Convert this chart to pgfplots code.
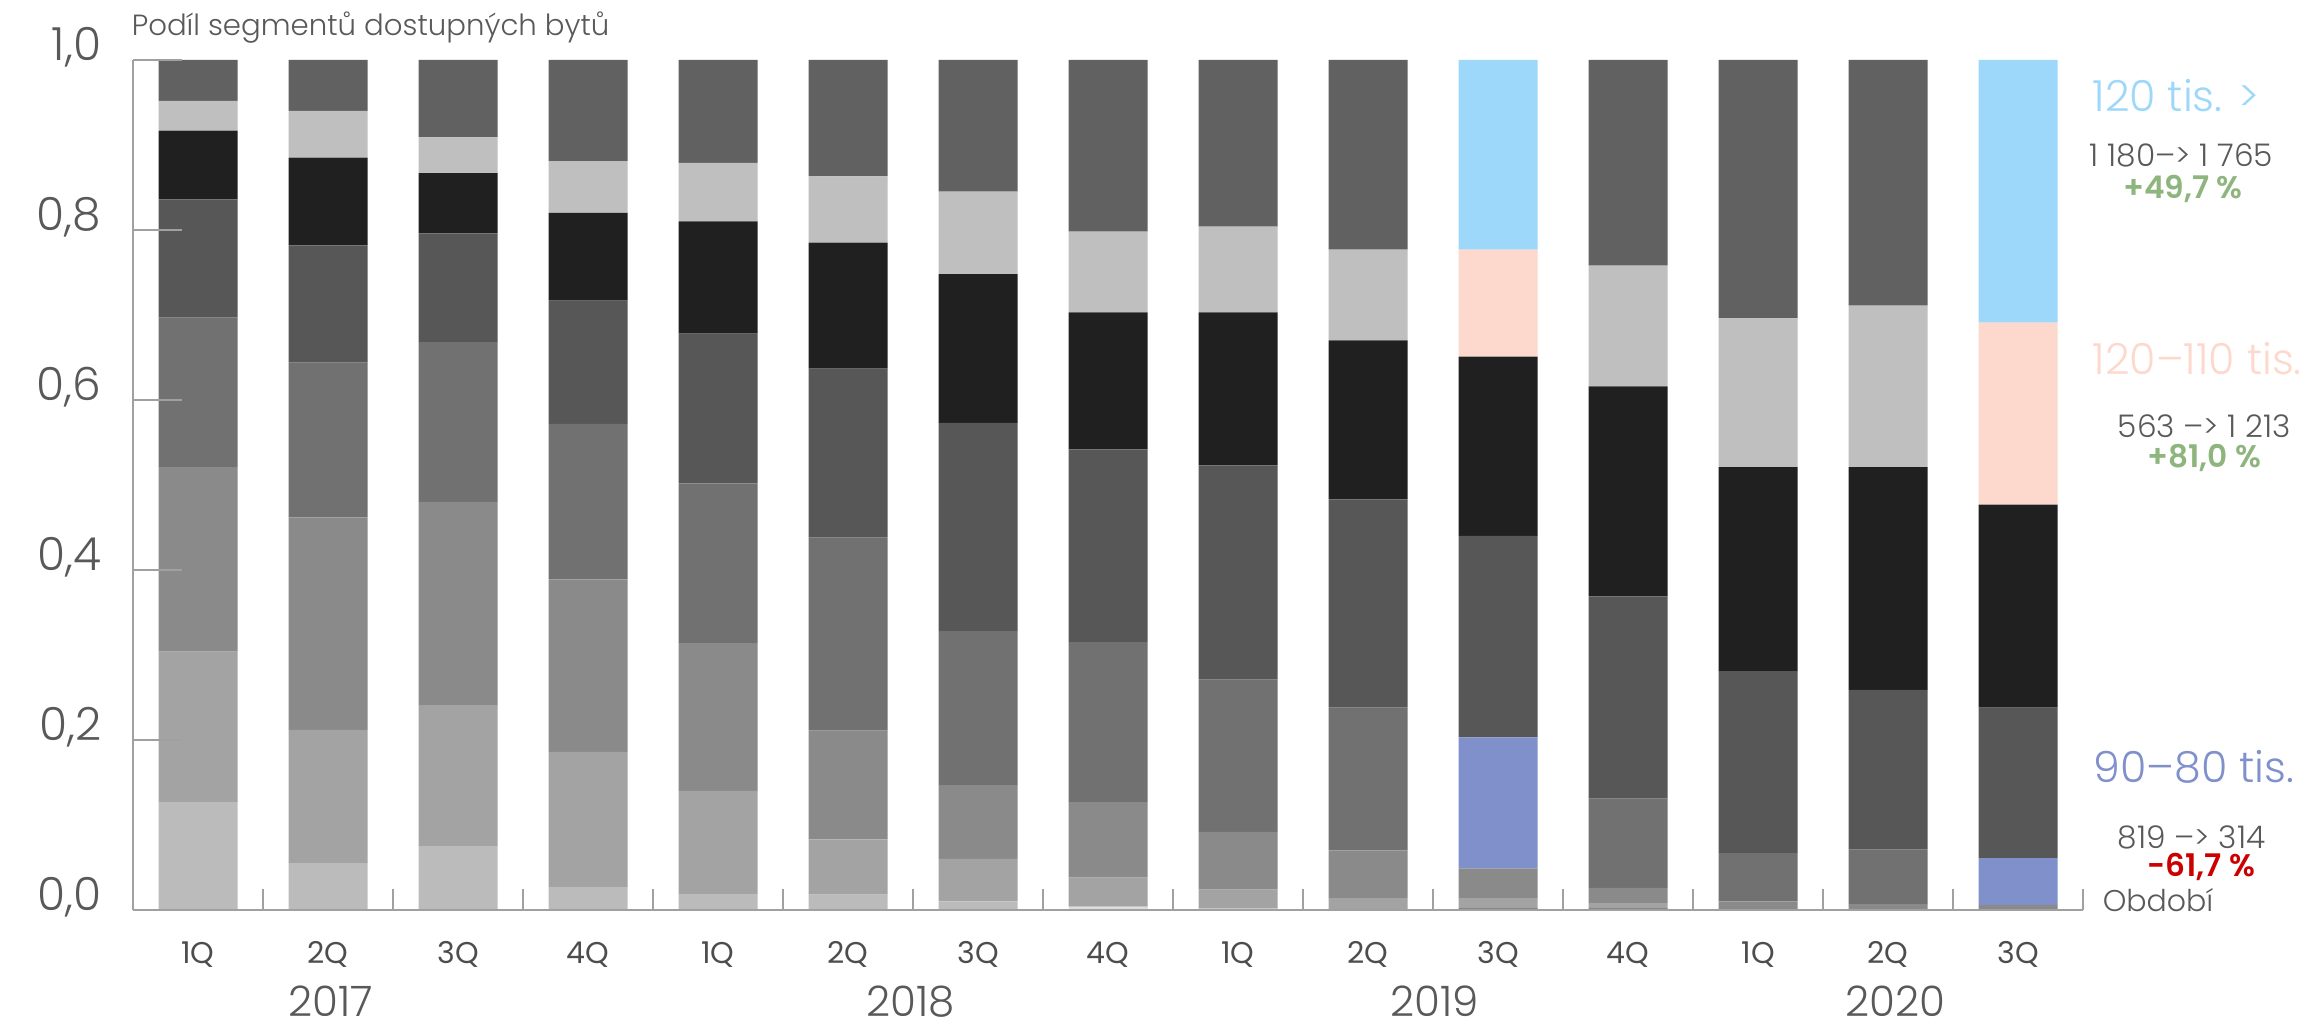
\documentclass[border=0pt]{standalone}
\usepackage{pgfplots}
\pgfplotsset{compat=1.18}
\usepackage{pgfplotstable}
\usepackage{fontspec}
\setmainfont{Poppins}[UprightFont=* Light, BoldFont=* SemiBold]
\newfontfamily\regfont{Poppins}

\definecolor{txt}{HTML}{595959}
\definecolor{qtxt}{HTML}{4D4D4D}
\definecolor{axisgray}{HTML}{A0A0A0}
\definecolor{g0}{HTML}{555555}
\definecolor{g1}{HTML}{DDDDDD}
\definecolor{g2}{HTML}{BBBBBB}
\definecolor{g3}{HTML}{A3A3A3}
\definecolor{g4}{HTML}{8A8A8A}
\definecolor{g5}{HTML}{717171}
\definecolor{g6}{HTML}{575757}
\definecolor{g7}{HTML}{202020}
\definecolor{g8}{HTML}{BFBFBF}
\definecolor{g9}{HTML}{616161}
\definecolor{hiblue}{HTML}{8090CB}
\definecolor{hipeach}{HTML}{FCD9CC}
\definecolor{hisky}{HTML}{9DD7FA}
\definecolor{upgreen}{HTML}{8DB57D}
\definecolor{downred}{HTML}{CC0000}

% share of price segments per quarter (bottom -> top)
% c5h, c8h, c9h: highlighted segments 90-80, 120-110 and >120 tis.
\pgfplotstableread{
x  c0    c1    c2    c3    c4    c5    c5h   c6    c7    c8    c8h   c9    c9h
0  0     0     0.127 0.177 0.217 0.176 0     0.139 0.081 0.035 0     0.048 0
1  0     0     0.055 0.157 0.250 0.182 0     0.138 0.103 0.055 0     0.060 0
2  0     0     0.075 0.166 0.239 0.188 0     0.128 0.071 0.042 0     0.091 0
3  0     0     0.027 0.159 0.203 0.183 0     0.145 0.103 0.061 0     0.119 0
4  0     0     0.019 0.121 0.174 0.188 0     0.176 0.132 0.069 0     0.121 0
5  0     0     0.018 0.065 0.128 0.227 0     0.199 0.148 0.078 0     0.137 0
6  0     0     0.010 0.050 0.087 0.181 0     0.245 0.175 0.097 0     0.155 0
7  0     0.004 0     0.034 0.089 0.188 0     0.227 0.161 0.095 0     0.202 0
8  0     0     0.002 0.022 0.068 0.179 0     0.252 0.180 0.101 0     0.196 0
9  0     0     0     0.014 0.056 0.168 0     0.245 0.187 0.107 0     0.223 0
10 0.002 0     0     0.012 0.035 0     0.154 0.237 0.211 0     0.126 0     0.223
11 0.002 0     0     0.006 0.018 0.105 0     0.238 0.247 0.142 0     0.242 0
12 0     0     0     0     0.010 0.057 0     0.214 0.240 0.175 0     0.304 0
13 0     0     0     0     0.007 0.064 0     0.188 0.262 0.190 0     0.289 0
14 0     0     0     0     0.006 0     0.055 0.177 0.239 0     0.214 0     0.309
}\datatable

\tikzset{yearlabel/.style={anchor=base, inner sep=0pt, yshift=-26.6pt,
    font=\fontsize{10.5}{12}\selectfont, text=txt}}
\newcommand{\gap}{\hspace{0.28em}}

\begin{document}
\begin{tikzpicture}
\useasboundingbox (-33.25pt,-29pt) rectangle (547pt,227.5pt);
\begin{axis}[
  at={(0,0)}, anchor=south west,
  scale only axis, width=487.5pt, height=212.5pt,
  ybar stacked, bar width=19.75pt,
  xmin=-0.5, xmax=14.5, ymin=0, ymax=1,
  axis lines*=left,
  axis line style={-, axisgray, line width=0.6pt},
  axis on top,
  clip=false,
  tick align=inside,
  ytick={0,0.2,0.4,0.6,0.8,1},
  yticklabels={{0,0},{0,2},{0,4},{0,6},{0,8},{1,0}},
  major tick length=12.25pt,
  y tick style={axisgray, line width=0.5pt},
  yticklabel style={anchor=east, inner sep=0pt, xshift=-7.75pt, yshift=3.25pt,
    font=\fontsize{11.4}{13}\selectfont, text=txt},
  xtick={0,...,14},
  xticklabels={1Q,2Q,3Q,4Q,1Q,2Q,3Q,4Q,1Q,2Q,3Q,4Q,1Q,2Q,3Q},
  x tick style={draw=none},
  minor xtick={-0.5,0.5,...,14.5},
  minor x tick style={draw=axisgray, line width=0.5pt},
  minor tick length=5.25pt,
  xticklabel style={anchor=base, inner sep=0pt, yshift=-13.25pt,
    font=\regfont\fontsize{7.5}{9}\selectfont, text=qtxt},
]
\addplot[fill=g0, draw=none] table[x=x, y=c0] {\datatable};
\addplot[fill=g1, draw=none] table[x=x, y=c1] {\datatable};
\addplot[fill=g2, draw=none] table[x=x, y=c2] {\datatable};
\addplot[fill=g3, draw=none] table[x=x, y=c3] {\datatable};
\addplot[fill=g4, draw=none] table[x=x, y=c4] {\datatable};
\addplot[fill=g5, draw=none] table[x=x, y=c5] {\datatable};
\addplot[fill=hiblue, draw=none] table[x=x, y=c5h] {\datatable};
\addplot[fill=g6, draw=none] table[x=x, y=c6] {\datatable};
\addplot[fill=g7, draw=none] table[x=x, y=c7] {\datatable};
\addplot[fill=g8, draw=none] table[x=x, y=c8] {\datatable};
\addplot[fill=hipeach, draw=none] table[x=x, y=c8h] {\datatable};
\addplot[fill=g9, draw=none] table[x=x, y=c9] {\datatable};
\addplot[fill=hisky, draw=none] table[x=x, y=c9h] {\datatable};

% year labels under the quarters
\node[yearlabel] at (axis cs:1.02,0) {2017};
\node[yearlabel] at (axis cs:5.48,0) {2018};
\node[yearlabel] at (axis cs:9.51,0) {2019};
\node[yearlabel] at (axis cs:13.06,0) {2020};
\end{axis}

% chart title
\node[anchor=base west, inner sep=0pt, font=\fontsize{7.3}{9}\selectfont, text=txt]
  at (-0.5pt,218.5pt) {Podíl segmentů dostupných bytů};
% axis name
\node[anchor=base west, inner sep=0pt, font=\fontsize{7.5}{9}\selectfont, text=txt]
  at (492.25pt,-0.5pt) {Období};

% segment notes
\node[anchor=base west, inner sep=0pt, font=\fontsize{10.7}{12}\selectfont, text=hisky]
  at (489.75pt,199.5pt) {120 tis. >};
\node[anchor=base west, inner sep=0pt, font=\fontsize{7.8}{9}\selectfont, text=txt]
  at (489pt,185.75pt) {1\gap180–>\gap1\gap765};
\node[anchor=base, inner sep=0pt, font=\bfseries\fontsize{7.8}{9}\selectfont, text=upgreen]
  at (512.5pt,177.75pt) {+49,7 \%};

\node[anchor=base west, inner sep=0pt, font=\fontsize{10.7}{12}\selectfont, text=hipeach]
  at (489.75pt,133.75pt) {120–110 tis.};
\node[anchor=base west, inner sep=0pt, font=\fontsize{7.8}{9}\selectfont, text=txt]
  at (496pt,118pt) {563 –>\gap1\gap213};
\node[anchor=base, inner sep=0pt, font=\bfseries\fontsize{7.8}{9}\selectfont, text=upgreen]
  at (517.75pt,110.5pt) {+81,0 \%};

\node[anchor=base west, inner sep=0pt, font=\fontsize{10.7}{12}\selectfont, text=hiblue]
  at (490pt,31.75pt) {90–80 tis.};
\node[anchor=base west, inner sep=0pt, font=\fontsize{7.8}{9}\selectfont, text=txt]
  at (496pt,15.25pt) {819 –>\gap314};
\node[anchor=base, inner sep=0pt, font=\bfseries\fontsize{7.8}{9}\selectfont, text=downred]
  at (517pt,8.25pt) {-61,7 \%};
\end{tikzpicture}
\end{document}
